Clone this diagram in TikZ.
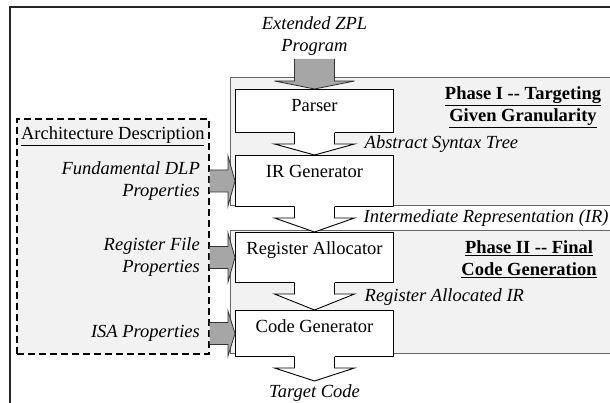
\documentclass[tikz,border=0pt]{standalone}
\usepackage{fontspec}
\setmainfont{Liberation Serif}
\usetikzlibrary{calc,positioning}

\begin{document}
\begin{tikzpicture}[x=1pt,y=-1pt,
  every node/.style={font=\fontsize{18.5}{22}\selectfont,inner sep=3pt},
  stage/.style={draw,fill=white,line width=1pt,minimum width=158pt,inner sep=5pt,text height=17pt},
  phase/.style={draw=black!60,fill=gray!10,line width=0.8pt},
  archbox/.style={draw,fill=gray!10,line width=1.6pt,dash pattern=on 7pt off 4pt},
  feed/.style={draw=black!80,fill=black!35,line width=0.8pt,line join=miter},
  flow/.style={draw=black,line width=0.9pt,line join=miter},
  itext/.style={font=\fontsize{18.5}{22}\selectfont\itshape},
  edgetext/.style={itext,anchor=west},
  sidetext/.style={itext,align=right},
  phasetext/.style={font=\fontsize{18.5}{22}\selectfont\bfseries,align=center}]

\useasboundingbox (0,0) rectangle (610,403);

% The frame
\draw[line width=1.2pt,black!85] (10,410) -- (10,7) -- (620,7);

% The phase panels
\draw[phase] (230,77) rectangle (625,205);
\draw[phase] (230,230) rectangle (625,353);

% The architecture description
\node[archbox,minimum width=192pt,minimum height=235pt,anchor=north west] (arch) at (16,118) {};
\node[anchor=base] (archtitle) at ($(arch.north)+(0,22)$) {\underline{Architecture Description}};

% Stages
\node[stage,text depth=16pt,anchor=north west] (parser) at (235,89) {Parser};
\node[stage,text depth=24pt,below=22pt of parser] (irgen) {IR Generator};
\node[stage,text depth=23pt,below=25pt of irgen] (regalloc) {Register Allocator};
\node[stage,text depth=19pt,below=27pt of regalloc] (codegen) {Code Generator};

% Input and output
\node[itext,align=center,above=30pt of parser] (program) {Extended ZPL\\Program};
\node[itext,below=24pt of codegen] (target) {Target Code};

% Phase labels
\node[phasetext] (phaseone) at (523,107) {\underline{Phase I -{}- Targeting}\\\underline{Given Granularity}};
\node[phasetext] (phasetwo) at (529,259) {\underline{Phase II -{}- Final}\\\underline{Code Generation}};

% Properties
\node[sidetext,left=32pt of irgen] (dlp) {Fundamental DLP\\Properties};
\node[sidetext,left=32pt of regalloc] (regfile) {Register File\\Properties};
\node[sidetext,left=32pt of codegen] (isa) {ISA Properties};

% Intermediate forms
\node[edgetext] (ast) at ($(parser.south)+(47,11)$) {Abstract Syntax Tree};
\node[edgetext] (ir) at ($(irgen.south)+(46,11)$) {Intermediate Representation (IR)};
\node[edgetext] (rair) at ($(regalloc.south)+(47,14)$) {Register Allocated IR};

% The property arrows
\foreach \b in {irgen,regalloc,codegen}
  \filldraw[feed] ($(arch.east |- \b.west)+(0,-11)$) -- ($(\b.west)+(-7,-11)$) -- ($(\b.north west)+(-7,1)$) -- (\b.west) -- ($(\b.south west)+(-7,-1)$) -- ($(\b.west)+(-7,11)$) -- ($(arch.east |- \b.west)+(0,11)$);

% The flow arrows
\foreach \a/\b in {parser/irgen,irgen/regalloc,regalloc/codegen,codegen/target} {
  \fill[white] ($(\a.south)+(-20,-1.5)$) -- ($(\a.south)+(-20,11)$) -- ($(\a.south)+(-40,11)$) -- (\b.north) -- ($(\a.south)+(40,11)$) -- ($(\a.south)+(20,11)$) -- ($(\a.south)+(20,-1.5)$) -- cycle;
  \draw[flow] ($(\a.south)+(-20,0)$) -- ($(\a.south)+(-20,11)$) -- ($(\a.south)+(-40,11)$) -- (\b.north) -- ($(\a.south)+(40,11)$) -- ($(\a.south)+(20,11)$) -- ($(\a.south)+(20,0)$);
}

% The program arrow
\filldraw[feed] ($(program.south)+(-20,0)$) -- ($(parser.north)+(-20,-8)$) -- ($(parser.north)+(-40,-8)$) -- (parser.north) -- ($(parser.north)+(40,-8)$) -- ($(parser.north)+(20,-8)$) -- ($(program.south)+(20,0)$);

\end{tikzpicture}
\end{document}
